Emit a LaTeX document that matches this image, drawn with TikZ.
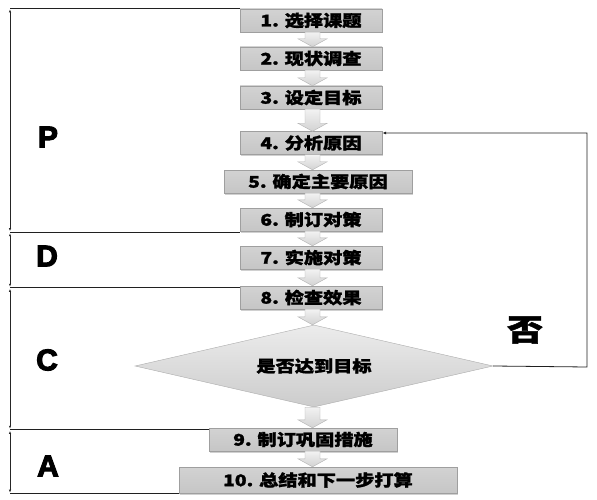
\documentclass[tikz,border=0pt]{standalone}
\usepackage{fontspec}
\setmainfont{Liberation Sans}
\newfontfamily\cjk{Noto Sans CJK SC}[FakeStretch=1.2, BoldFeatures={FakeBold=1.6}]
\newfontfamily\heavy{Liberation Sans}[BoldFeatures={FakeBold=3.5}]
\usetikzlibrary{shapes.geometric,shadows,calc,arrows.meta}
\begin{document}
\begin{tikzpicture}[x=1pt,y=-1pt,
  stepbox/.style={draw=gray!75, top color=gray!35, middle color=gray!8, bottom color=gray!45,
    minimum height=23pt, inner sep=0pt, font=\cjk\bfseries\fontsize{16}{16}\selectfont,
    drop shadow={shadow xshift=1.2pt,shadow yshift=-1.5pt,fill=gray!60,opacity=0.6}},
  decision/.style={diamond, draw=gray!65, top color=gray!15, bottom color=gray!40,
    minimum width=358pt, minimum height=82pt, inner sep=0pt, aspect=4.3,
    font=\cjk\bfseries\fontsize{16}{16}\selectfont},
  blockarr/.style={draw=gray!60, top color=gray!10, bottom color=gray!35},
  fbline/.style={draw=gray!25!black, line width=0.8pt, -{Latex[length=4pt,width=3pt]}},
  hline/.style={draw=gray!25!black, line width=0.8pt},
  dimline/.style={draw=gray!30!black, line width=0.6pt,
    {Latex[length=3pt,width=2.2pt]}-{Latex[length=3pt,width=2.2pt]}},
  pdca/.style={font=\heavy\fontsize{30}{30}\selectfont\bfseries},
  nolabel/.style={font=\cjk\bfseries\fontsize{30}{30}\selectfont}
]
\useasboundingbox[fill=white] (0,0) rectangle (597,500);

% block arrows
\newcommand\blockarrow[2]{%
  \path[blockarr] let \p1=(#1.south), \p2=(#2.north) in
    (305pt,\y1) -- (320pt,\y1) -- (320pt,{\y2+8pt}) -- (327pt,{\y2+8pt}) --
    (312.5pt,\y2) -- (298pt,{\y2+8pt}) -- (305pt,{\y2+8pt}) -- cycle;}

% boxes
\node[stepbox, minimum width=142pt] (b1) at (311,20.5) {1. 选择课题};
\node[stepbox, minimum width=142pt] (b2) at (311,58.5) {2. 现状调查};
\node[stepbox, minimum width=142pt] (b3) at (311,97.5) {3. 设定目标};
\node[stepbox, minimum width=142pt] (b4) at (311,143) {4. 分析原因};
\node[stepbox, minimum width=188pt] (b5) at (318,181.5) {5. 确定主要原因};
\node[stepbox, minimum width=142pt] (b6) at (311,219.5) {6. 制订对策};
\node[stepbox, minimum width=142pt] (b7) at (311,257.5) {7. 实施对策};
\node[stepbox, minimum width=142pt] (b8) at (311,297.5) {8. 检查效果};
\node[decision] (dm) at (314,366) {是否达到目标};
\node[stepbox, minimum width=188pt] (b9) at (303,439.5) {9. 制订巩固措施};
\node[stepbox, minimum width=278pt, minimum height=26pt] (b10) at (318,480) {10. 总结和下一步打算};

\blockarrow{b1}{b2}
\blockarrow{b2}{b3}
\blockarrow{b3}{b4}
\blockarrow{b4}{b5}
\blockarrow{b5}{b6}
\blockarrow{b6}{b7}
\blockarrow{b7}{b8}
\blockarrow{b8}{dm}
\blockarrow{dm}{b9}
\blockarrow{b9}{b10}

% feedback loop
\coordinate (fr) at (587,367);
\coordinate (fu) at (587,133);
\draw[fbline] (dm.east) -- (fr) -- (fu) -- (fu -| b4.east);
\node[nolabel] (no) at (525,330) {否};

% left phase brackets
\coordinate (lx) at (10,0);
\coordinate (d0) at (b1.north west -| lx);
\coordinate (d1) at ($(b6.south west -| lx)+(0,1)$);
\coordinate (d2) at ($(b8.north west -| lx)+(0,2)$);
\coordinate (d3) at ($(b9.north west -| lx)+(0,2)$);
\coordinate (d4) at (b10.south west -| lx);
\draw[hline] (b1.north west) -- (d0);
\draw[hline] ($(b6.south west)+(0,1)$) -- (d1);
\draw[hline] ($(b8.north west)+(0,2)$) -- (d2);
\draw[hline] ($(b9.north west)+(0,2)$) -- (d3);
\draw[hline] (b10.south west) -- (d4);
\draw[dimline] ([yshift=-0.5pt]d0) -- ([yshift=1pt]d1);
\draw[dimline] ([yshift=-1pt]d1) -- ([yshift=1pt]d2);
\draw[dimline] ([yshift=-1pt]d2) -- ([yshift=1pt]d3);
\draw[dimline] ([yshift=-1pt]d3) -- ([yshift=0.5pt]d4);

\node[pdca] (P) at (48,137) {P};
\node[pdca] (D) at (47,256) {D};
\node[pdca] (C) at (47,360) {C};
\node[pdca] (A) at (48,466) {A};
\end{tikzpicture}
\end{document}
